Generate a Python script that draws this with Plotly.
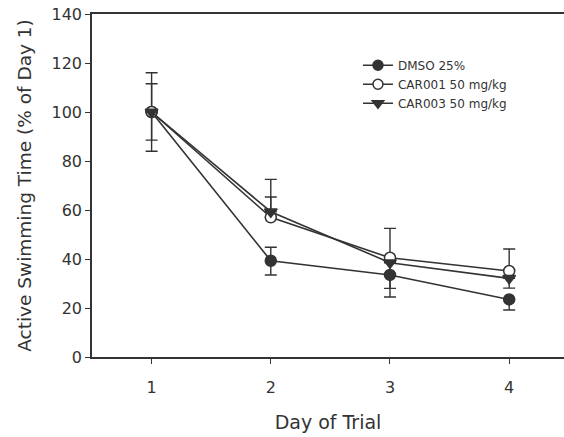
import plotly.graph_objects as go

days = [1, 2, 3, 4]
dmso = [100, 39.3, 33.5, 23.5]
dmso_plus = [11.5, 5.5, 0, 0]
dmso_minus = [11.5, 5.8, 9, 4.3]
car001 = [100, 57, 40.5, 35.1]
car001_plus = [16, 15.5, 12, 9]
car001_minus = [16, 0, 0, 0]
car003 = [100, 59.3, 38.5, 32.1]
car003_plus = [0, 6, 0, 0]
car003_minus = [0, 0, 10.5, 4]

names = ["DMSO 25%", "CAR001 50 mg/kg", "CAR003 50 mg/kg"]
ink = "#333333"
FONT = "DejaVu Sans"

fig = go.Figure()

def add(y, plus, minus, name, symbol, fill):
    fig.add_trace(go.Scatter(
        x=days, y=y, name=name, mode="lines+markers", showlegend=False,
        line=dict(color=ink, width=1.6),
        marker=dict(symbol=symbol, size=11, color=fill,
                    line=dict(color=ink, width=1.5)),
        error_y=dict(type="data", symmetric=False, array=plus, arrayminus=minus,
                     color=ink, thickness=1.4, width=6),
    ))
    # legend entry without error bar glyph
    fig.add_trace(go.Scatter(
        x=[None], y=[None], name=name, mode="lines+markers",
        line=dict(color=ink, width=1.6),
        marker=dict(symbol=symbol, size=10, color=fill,
                    line=dict(color=ink, width=1.5)),
    ))

add(dmso, dmso_plus, dmso_minus, names[0], "circle", ink)
add(car001, car001_plus, car001_minus, names[1], "circle", "white")
add(car003, car003_plus, car003_minus, names[2], "triangle-down", ink)

fig.update_layout(
    width=564, height=437,
    margin=dict(l=92, r=0, t=14, b=80),
    plot_bgcolor="white", paper_bgcolor="white",
    font=dict(family=FONT, color=ink, size=16),
    showlegend=True,
    legend=dict(x=0.5635, y=0.893, xanchor="left", yanchor="top",
                bgcolor="rgba(0,0,0,0)", font=dict(size=12, family=FONT, color=ink),
                tracegroupgap=0, itemsizing="trace"),
    xaxis=dict(range=[0.5, 4.46], tickvals=days, ticktext=["1", "2", "3", "4"],
               showline=True, linecolor=ink, linewidth=1.5, mirror=True,
               ticks="outside", ticklen=5, tickcolor=ink, showgrid=False, zeroline=False,
               ticklabelstandoff=10,
               title=dict(text="Day of Trial", standoff=20, font=dict(size=19)),
               tickfont=dict(size=16)),
    yaxis=dict(range=[0, 140], tickvals=[0, 20, 40, 60, 80, 100, 120, 140],
               showline=True, linecolor=ink, linewidth=1.5, mirror=False,
               ticks="outside", ticklen=5, tickcolor=ink, showgrid=False, zeroline=False,
               title=dict(text="Active Swimming Time (% of Day 1)", standoff=15, font=dict(size=18.5)),
               tickfont=dict(size=16)),
)

fig.write_html("out.html")
